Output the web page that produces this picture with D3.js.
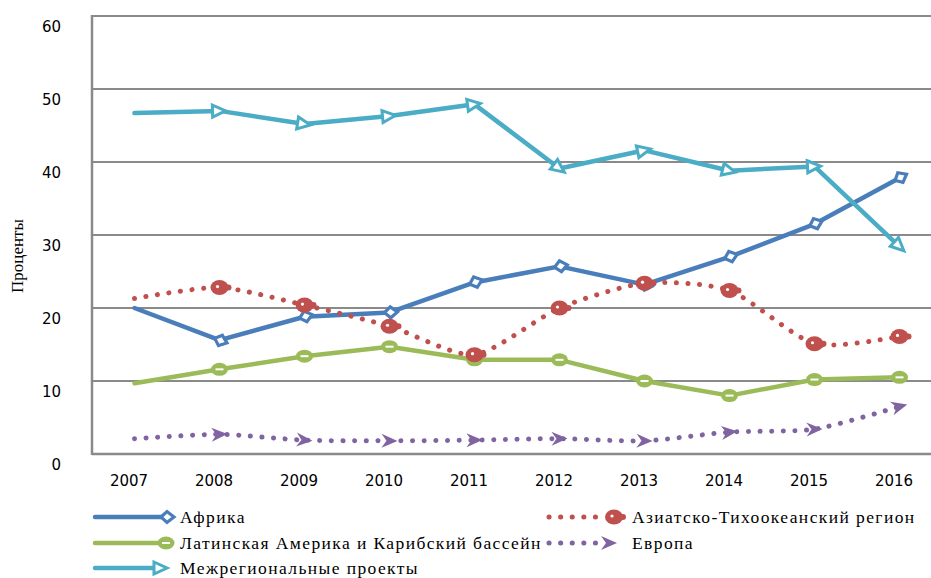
<!DOCTYPE html>
<html><head><meta charset="utf-8">
<script src="https://cdn.jsdelivr.net/npm/d3@7"></script>
<style>body{margin:0;background:#fff}svg{display:block}</style>
</head><body><svg id="c" width="931" height="578"></svg>
<script>
const years = ["2007","2008","2009","2010","2011","2012","2013","2014","2015","2016"];
const yTicks = [0,10,20,30,40,50,60];
const africa = [20.0,15.6,18.8,19.4,23.5,25.7,23.2,27.0,31.5,37.8];
const asiaPacific = [21.3,22.8,20.4,17.5,13.6,20.0,23.4,22.4,15.1,16.1];
const latinAmerica = [9.7,11.6,13.4,14.7,12.9,12.9,10.0,8.0,10.2,10.5];
const europe = [2.1,2.7,1.9,1.8,1.9,2.1,1.8,3.0,3.4,6.5];
const interregional = [46.7,47.0,45.2,46.3,47.9,39.1,41.6,38.8,39.4,28.4];
const seriesNames = ["Африка","Азиатско-Тихоокеанский регион","Латинская Америка и Карибский бассейн","Европа","Межрегиональные проекты"];
const yTitle = "Проценты";

const svg = d3.select("#c");
const x = d3.scalePoint().domain(years).range([92, 942]).padding(0.5);
const y = d3.scaleLinear().domain([0,60]).range([454,16]);

// grid
svg.append("g").selectAll("line").data(yTicks.filter(d=>d>0)).join("line")
  .attr("x1",92).attr("x2",931).attr("y1",d=>y(d)).attr("y2",d=>y(d))
  .attr("stroke","#8a8a8a").attr("stroke-width",2);
svg.append("line").attr("x1",92).attr("x2",931).attr("y1",y(0)).attr("y2",y(0)).attr("stroke","#8a8a8a").attr("stroke-width",2.5);
svg.append("line").attr("x1",92).attr("x2",92).attr("y1",y(60)-1).attr("y2",y(0)+1).attr("stroke","#8a8a8a").attr("stroke-width",2.5);

// y labels
const yAxis = d3.axisLeft(y).tickValues(yTicks).tickSize(0).tickPadding(0);
const ya = svg.append("g").attr("transform","translate(61,10)").call(yAxis);
ya.select(".domain").remove();
ya.selectAll("text").attr("font-family","DejaVu Sans").attr("font-size",15).attr("fill","#000").attr("dy","0.35em");

// x labels
const xAxis = d3.axisBottom(x).tickSize(0).tickPadding(0);
const xa = svg.append("g").attr("transform","translate(-6,481)").call(xAxis);
xa.select(".domain").remove();
xa.selectAll("text").attr("font-family","DejaVu Sans").attr("font-size",15).attr("fill","#000").attr("dy","0.35em");

svg.append("text").attr("transform","translate(23,256) rotate(-90)").attr("text-anchor","middle")
  .attr("font-family","Liberation Serif").attr("font-size",17).text(yTitle);

const cols = {africa:"#4a7ebb", asia:"#c0504d", latin:"#9bbb59", europe:"#8064a2", inter:"#4bacc6"};

function angles(vals){
  const pts = vals.map((v,i)=>[x(years[i]),y(v)]);
  return pts.map((p,i)=>{
    const a = i>0 ? pts[i-1] : p, b = i>0 ? p : pts[1];
    return Math.atan2(b[1]-a[1], b[0]-a[0])*180/Math.PI;
  });
}
const marker = {
  diamond: (g,c)=>{ g.append("path").attr("d","M-5,0 L1,-5.5 L8,0 L1,5.5Z").attr("fill","#fff").attr("stroke",c).attr("stroke-width",3.2).attr("stroke-linejoin","miter"); },
  openArrow: (g,c)=>{ g.append("path").attr("d","M-7,-6 L6,0 L-7,6Z").attr("fill","#fff").attr("stroke",c).attr("stroke-width",3).attr("stroke-linejoin","miter"); },
  stealth: (g,c)=>{ g.append("path").attr("d","M-8,-7 L8,0 L-8,7 L-3,0Z").attr("fill",c); },
  ellipseRed: (g,c)=>{ g.append("ellipse").attr("rx",9).attr("ry",7.5).attr("fill",c);
      g.append("circle").attr("cx",-2).attr("cy",-1).attr("r",1.6).attr("fill","#fff");
      g.append("circle").attr("cx",9).attr("cy",0).attr("r",3).attr("fill",c); },
  ellipseGreen: (g,c)=>{ g.append("ellipse").attr("rx",8.5).attr("ry",6.5).attr("fill",c);
      g.append("line").attr("x1",-4).attr("x2",4).attr("y1",0).attr("y2",0).attr("stroke","#fff").attr("stroke-width",2); }
};

const dotted = {dash:"0.1 11.5", width:5};
const series = [
  {vals:africa, col:cols.africa, curve:d3.curveLinear, dash:null, w:4.5, mk:"diamond", orient:true},
  {vals:latinAmerica, col:cols.latin, curve:d3.curveLinear, dash:null, w:4.5, mk:"ellipseGreen", orient:false},
  {vals:interregional, col:cols.inter, curve:d3.curveLinear, dash:null, w:4.5, mk:"openArrow", orient:true},
  {vals:asiaPacific, col:cols.asia, curve:d3.curveCardinal.tension(0.3), dash:dotted.dash, w:dotted.width, mk:"ellipseRed", orient:false},
  {vals:europe, col:cols.europe, curve:d3.curveCardinal.tension(0.3), dash:dotted.dash, w:dotted.width, mk:"stealth", orient:true},
];
series.forEach(s=>{
  const line = d3.line().x((d,i)=>x(years[i])).y(d=>y(d)).curve(s.curve);
  svg.append("path").attr("d",line(s.vals)).attr("fill","none").attr("stroke",s.col)
    .attr("stroke-width",s.w).attr("stroke-linecap","round").attr("stroke-linejoin","round")
    .attr("stroke-dasharray",s.dash);
});
series.forEach(s=>{
  const ang = angles(s.vals);
  s.vals.forEach((v,i)=>{
    if (i===0) return;
    const g = svg.append("g").attr("transform",`translate(${x(years[i])},${y(v)}) rotate(${s.orient?ang[i]:0})`);
    marker[s.mk](g,s.col);
  });
});

// legend
const legend = [
  {name:seriesNames[0], col:cols.africa, x1:95, x2:163, y:517, dash:null, mk:"diamond", mx:166, tx:180},
  {name:seriesNames[2], col:cols.latin, x1:95, x2:160, y:543, dash:null, mk:"ellipseGreen", mx:166, tx:180},
  {name:seriesNames[4], col:cols.inter, x1:95, x2:158, y:568, dash:null, mk:"openArrow", mx:161, tx:180},
  {name:seriesNames[1], col:cols.asia, x1:549, x2:600, y:517, dash:dotted.dash, mk:"ellipseRed", mx:614, tx:632},
  {name:seriesNames[3], col:cols.europe, x1:549, x2:597, y:543, dash:dotted.dash, mk:"stealth", mx:609, tx:632},
];
legend.forEach(l=>{
  svg.append("line").attr("x1",l.x1).attr("x2",l.x2).attr("y1",l.y).attr("y2",l.y).attr("stroke",l.col)
    .attr("stroke-width",l.dash?dotted.width:4.5).attr("stroke-linecap","round").attr("stroke-dasharray",l.dash);
  const g = svg.append("g").attr("transform",`translate(${l.mx},${l.y})`);
  marker[l.mk](g,l.col);
  svg.append("text").attr("x",l.tx).attr("y",l.y+6).attr("font-family","Liberation Serif").attr("font-size",17.5)
    .attr("letter-spacing","1.4px").attr("fill","#000").text(l.name);
});
</script></body></html>
